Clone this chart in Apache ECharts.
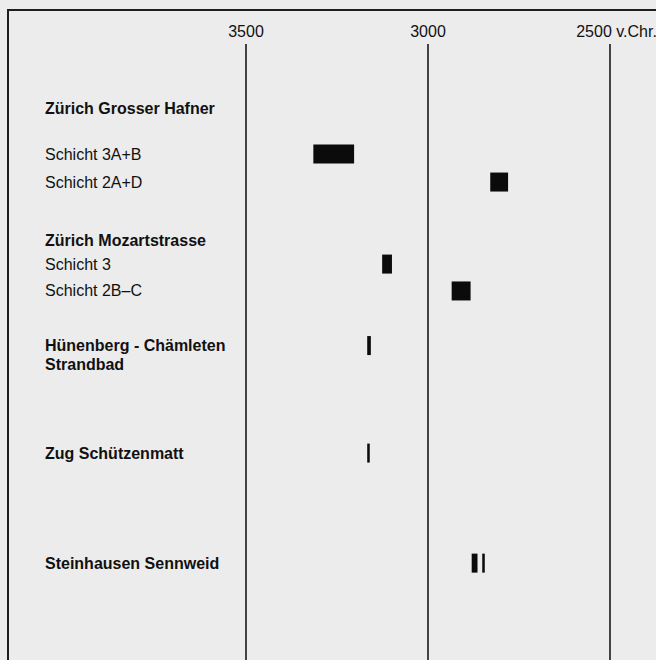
<!DOCTYPE html>
<html>
<head>
<meta charset="utf-8">
<script src="https://cdn.jsdelivr.net/npm/echarts@6/dist/echarts.min.js"></script>
<style>
  html, body { margin: 0; padding: 0; background: #ececec; overflow: hidden; }
  #chart { width: 656px; height: 660px; }
</style>
</head>
<body>
<div id="chart"></div>
<script>
// ---------------- DATA ----------------
// Rows (sites in bold, layers in regular weight)
const rowLabels = [
  'Zürich Grosser Hafner',
  'Schicht 3A+B',
  'Schicht 2A+D',
  'Zürich Mozartstrasse',
  'Schicht 3',
  'Schicht 2B–C',
  'Hünenberg - Chämleten\nStrandbad',
  'Zug Schützenmatt',
  'Steinhausen Sennweid'
];
const rowKind = ['site', 'layer', 'layer', 'site', 'layer', 'layer', 'site', 'site', 'site'];

// Dated intervals (years BC), one entry per black bar
const barRow   = [1,    2,    4,    5,    6,    7,    8,    8];
const barStart = [3315, 2829, 3126, 2935, 3167, 3167, 2880, 2851];
const barEnd   = [3203, 2780, 3099, 2883, 3157, 3160, 2864, 2844];

// Time axis ticks
const tickValues = [3500, 3000, 2500];
const tickLabels = ['3500', '3000', '2500 v.Chr.'];

// ---------------- LAYOUT (not data) ----------------
const ROW_SLOT = [2.32, 3.93, 4.93, 7.0, 7.86, 8.82, 10.77, 14.61, 18.54]; // vertical slot of each row
const LABEL_X = 45;
const BAR_H = 19;
const LINE_H = 18.5;
const FONT = '"Liberation Sans", Arial, Helvetica, sans-serif';

const chart = echarts.init(document.getElementById('chart'), null, { renderer: 'svg' });

const tickLabelMap = {};
tickValues.forEach((v, i) => { tickLabelMap[v] = tickLabels[i]; });

const option = {
  backgroundColor: '#ececec',
  animation: false,
  grid: { left: 246, right: 46, top: 44, bottom: 0, containLabel: false, outerBoundsMode: 'none' },
  xAxis: {
    type: 'value',
    inverse: true,
    min: 2500,
    max: 3500,
    interval: 500,
    position: 'top',
    axisLine: { show: false },
    axisTick: { show: false },
    axisLabel: {
      margin: 5,
      fontSize: 16,
      fontFamily: FONT,
      color: '#111',
      hideOverlap: false,
      formatter: function (v) {
        const t = tickLabelMap[v] || '';
        return v === 2500 ? '{r|' + t + '}' : t;
      },
      rich: {
        r: { fontSize: 16, fontFamily: FONT, color: '#111', padding: [0, 0, 0, 13] }
      }
    },
    splitLine: { show: true, lineStyle: { color: '#1a1a1a', width: 1.6 } }
  },
  yAxis: {
    type: 'value',
    inverse: true,
    min: 0,
    max: 22,
    show: false
  },
  graphic: [
    {
      type: 'polyline',
      shape: { points: [[8, 664], [8, 10], [662, 10]] },
      style: { stroke: '#1e1e1e', lineWidth: 2, fill: null },
      z: 100
    }
  ],
  series: [
    {
      type: 'custom',
      name: 'labels',
      clip: false,
      silent: true,
      encode: { x: 0, y: 1 },
      data: rowLabels.map((t, i) => [3500, ROW_SLOT[i]]),
      renderItem: function (params, api) {
        const i = params.dataIndex;
        const p = api.coord([api.value(0), api.value(1)]);
        return {
          type: 'text',
          x: LABEL_X,
          y: p[1] - LINE_H / 2,
          style: {
            text: rowLabels[i],
            font: (rowKind[i] === 'site' ? 'bold ' : '') + '16px ' + FONT,
            fill: '#111',
            verticalAlign: 'top',
            align: 'left',
            lineHeight: LINE_H
          }
        };
      }
    },
    {
      type: 'custom',
      name: 'bars',
      clip: false,
      encode: { x: [0, 1], y: 2 },
      data: barRow.map((r, i) => [barStart[i], barEnd[i], ROW_SLOT[r]]),
      renderItem: function (params, api) {
        const p0 = api.coord([api.value(0), api.value(2)]);
        const p1 = api.coord([api.value(1), api.value(2)]);
        return {
          type: 'rect',
          shape: {
            x: Math.min(p0[0], p1[0]),
            y: p0[1] - BAR_H / 2,
            width: Math.abs(p1[0] - p0[0]),
            height: BAR_H
          },
          style: { fill: '#0b0b0b' }
        };
      }
    }
  ]
};

chart.setOption(option);
</script>
</body>
</html>
